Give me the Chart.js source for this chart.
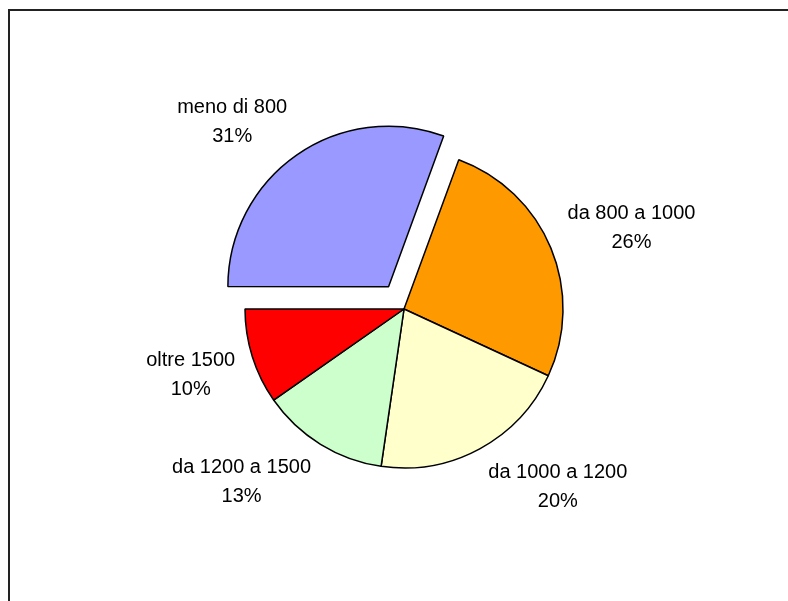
<!DOCTYPE html>
<html>
<head>
<meta charset="utf-8">
<script src="https://cdn.jsdelivr.net/npm/chart.js@4"></script>
<style>
  html, body { margin: 0; padding: 0; background: #fff; }
  #wrap { position: relative; width: 788px; height: 601px; overflow: hidden; }
  #frame { position: absolute; left: 8px; top: 9px; width: 900px; height: 700px;
           border-left: 2px solid #222; border-top: 2px solid #222; }
  canvas { position: absolute; left: 0; top: 0; }
</style>
</head>
<body>
<div id="wrap">
  <div id="frame"></div>
  <canvas id="chart" width="788" height="601"></canvas>
</div>
<script>
// categorie e valori (percentuali)
const categories = ['meno di 800', 'da 800 a 1000', 'da 1000 a 1200', 'da 1200 a 1500', 'oltre 1500'];
const values = [30.6, 26.3, 20.4, 13.0, 9.7];
const colors = ['#9999FF', '#FF9900', '#FFFFCC', '#CCFFCC', '#FF0000'];
// spostamento della fetta esplosa, in pixel
const explode = [27, 0, 0, 0, 0];

const FONT = '20px "Liberation Sans", Arial, sans-serif';

/**
 * etichette esterne: nome + percentuale, posizionate fuori dalla fetta
 */
const outsideLabels = {
  id: 'outsideLabels',
  afterDatasetsDraw(chart) {
    const ctx = chart.ctx;
    const meta = chart.getDatasetMeta(0);
    const total = values.reduce((a, b) => a + b, 0);
    ctx.save();
    ctx.font = FONT;
    ctx.fillStyle = '#000';
    ctx.textAlign = 'center';
    ctx.textBaseline = 'alphabetic';
    meta.data.forEach((arc, i) => {
      const p = arc.getProps(['x', 'y', 'startAngle', 'endAngle', 'outerRadius'], true);
      const mid = (p.startAngle + p.endAngle) / 2;
      const ux = Math.cos(mid), uy = Math.sin(mid);
      const off = explode[i];
      const cx = p.x + ux * off, cy = p.y + uy * off;
      const d = p.outerRadius + 18;
      const ax = cx + ux * d, ay = cy + uy * d;
      const l1 = categories[i];
      const l2 = Math.round(values[i] / total * 100) + '%';
      const hw = Math.max(ctx.measureText(l1).width, ctx.measureText(l2).width) / 2;
      const hh = 21;
      const sx = Math.max(-1, Math.min(1, ux * 2.2));
      const sy = Math.max(-1, Math.min(1, uy * 1.8));
      const bx = ax + hw * sx, by = ay + hh * sy;
      ctx.fillText(l1, bx, by - 7.5);
      ctx.fillText(l2, bx, by + 21.5);
    });
    ctx.restore();
  }
};

new Chart(document.getElementById('chart'), {
  type: 'pie',
  data: {
    labels: categories,
    datasets: [{
      data: values,
      backgroundColor: colors,
      borderColor: '#000',
      borderWidth: 1.5,
      // Chart.js trasla l'arco di offset/4
      offset: explode.map(v => v * 4),
    }],
  },
  options: {
    responsive: false,
    animation: false,
    rotation: -90,
    radius: 159,
    layout: { padding: { left: 20, top: 17, right: 0, bottom: 0 } },
    plugins: {
      legend: { display: false },
      tooltip: { enabled: false },
    },
  },
  plugins: [outsideLabels],
});
</script>
</body>
</html>
